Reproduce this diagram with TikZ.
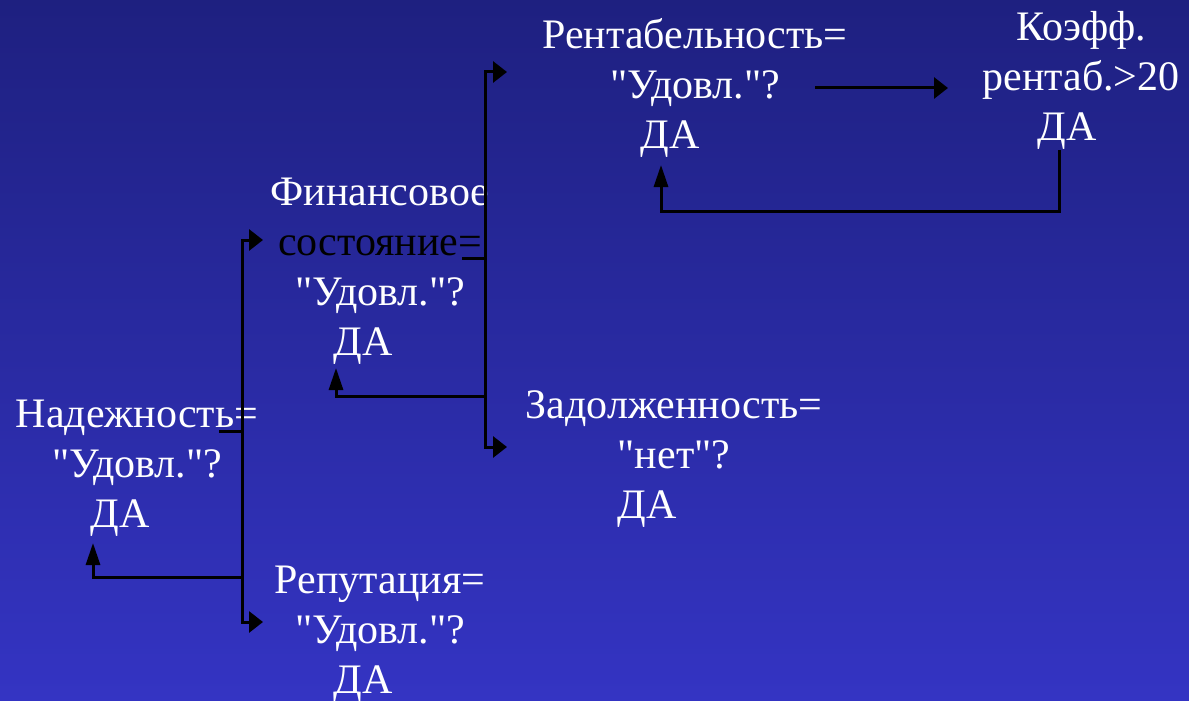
\documentclass[tikz,border=0pt]{standalone}
\usepackage{fontspec}
\setmainfont{Liberation Serif}[Ligatures=TeXOff]
\usetikzlibrary{arrows.meta}
\definecolor{bgtop}{RGB}{30,32,128}
\definecolor{bgbot}{RGB}{52,52,195}
\tikzset{
  cond/.style={text=white, align=center, font=\fontsize{42}{50}\selectfont, inner sep=0pt, anchor=base},
  link/.style={draw=black, line width=3pt},
  hhead/.tip={Triangle[length=14pt,width=21pt]},
  vhead/.tip={Triangle[length=22pt,width=14pt]},
  fork/.style={link, hhead-hhead},
  back/.style={link, -vhead},
}
\begin{document}
\begin{tikzpicture}[x=1pt,y=-1pt]
\path[use as bounding box, clip] (0,0) rectangle (1189,701);
\shade[top color=bgtop, bottom color=bgbot] (0,0) rectangle (1189,701);

% conditions (anchored at the baseline of the last line)
\node[cond] (nad) at (137,527) {Надежность=\\"Удовл."?\\ДА\hspace*{34pt}};
\node[cond] (fin) at (380,355) {Финансовое\\\textcolor{black}{состояние=}\\"Удовл."?\\ДА\hspace*{34pt}};
\node[cond] (rep) at (380,693) {Репутация=\\"Удовл."?\\ДА\hspace*{34pt}};
\node[cond] (rent) at (695,148) {Рентабельность=\\"Удовл."?\hspace*{8pt}\\ДА\hspace*{50pt}};
\node[cond] (koef) at (1081,140) {Коэфф.\\рентаб.>20\\ДА\hspace*{28pt}};
\node[cond] (zad) at (674,518) {Задолженность=\\"нет"?\hspace*{34pt}\\ДА\hspace*{54pt}};

% junction points
\coordinate (nadOut) at (219,431);
\coordinate (busA) at (242,431);
\coordinate (finIn) at (263,240);
\coordinate (repIn) at (263,622);
\coordinate (busAret) at (242,577);
\coordinate (nadIn) at (93,543);

\coordinate (finOut) at (462,258);
\coordinate (busB) at (485,258);
\coordinate (rentIn) at (507,72);
\coordinate (zadIn) at (507,447);
\coordinate (busBret) at (485,396);
\coordinate (finBack) at (336,368);

\coordinate (rentOut) at (815,88);
\coordinate (koefIn) at (948,88);
\coordinate (koefOut) at (1059,150);
\coordinate (koefLow) at (1059,211);
\coordinate (rentBack) at (661,165);

% first level
\draw[link] (nadOut) -- (busA);
\draw[fork] (finIn) -| (busA) |- (repIn);
\draw[back] (busAret) -| (nadIn);

% second level
\draw[link] (finOut) -- (busB);
\draw[fork] (rentIn) -| (busB) |- (zadIn);
\draw[back] (busBret) -| (finBack);

% profitability
\draw[link, -hhead] (rentOut) -- (koefIn);
\draw[back] (koefOut) -- (koefLow) -| (rentBack);
\end{tikzpicture}
\end{document}
